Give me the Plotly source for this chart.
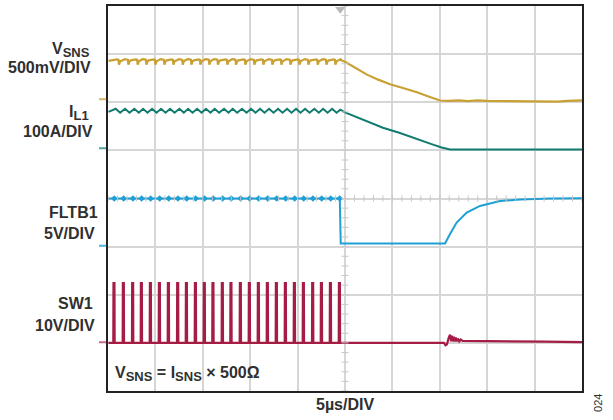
import plotly.graph_objects as go

# ---- data (time in µs, 5 µs/div; amplitude in divisions, centre = 0) ----
pulse_t = [-24.44, -23.45, -22.47, -21.55, -20.60, -19.65, -18.70, -17.72, -16.80,
           -15.85, -14.91, -14.00, -13.01, -12.10, -11.11, -10.16, -9.21, -8.26,
           -7.31, -6.36, -5.41, -4.46, -3.48, -2.56, -1.61, -0.66]
pulse_width = 0.12

# VSNS ripple shape within one switching period (offset from pulse, level)
vsns_rip_dt = [0.0, 0.2, 0.42, 0.55, 0.6, 0.72, 0.85]
vsns_rip_v = [2.875, 2.895, 2.89, 2.88, 2.78, 2.85, 2.87]
vsns_tail_t = [-0.42, 0.0, 1.2, 2.32, 3.5, 4.75, 6.2, 7.59, 8.8, 10.02, 11.0, 12.0, 13.0,
               14.0, 15.0, 16.5, 18.0, 19.5, 21.0, 22.4, 23.5, 25.0]
vsns_tail_v = [2.873, 2.842, 2.70, 2.574, 2.47, 2.373, 2.29, 2.208, 2.12, 2.036, 2.03,
               2.038, 2.025, 2.04, 2.03, 2.026, 2.036, 2.03, 2.022, 2.014, 2.03, 2.04]

# IL1 triangle ripple (offset from pulse, level)
il1_rip_dt = [0.25, 0.72]
il1_rip_v = [1.865, 1.782]
il1_tail_t = [-0.5, 0.0, 1.2, 2.32, 4.0, 5.8, 7.5, 9.28, 10.2, 11.08, 25.0]
il1_tail_v = [1.845, 1.788, 1.69, 1.602, 1.47, 1.36, 1.235, 1.12, 1.06, 1.017, 1.017]

# FLTB1
fltb_high = 0.0
fltb_tail_t = [-0.55, -0.45, 10.55, 11.08, 11.78, 12.84, 14.24, 16.35, 18.46, 21.62, 25.0]
fltb_tail_v = [0.0, -0.934, -0.934, -0.74, -0.50, -0.294, -0.155, -0.052, -0.021, 0.0, 0.006]

# SW1
sw_low = -3.0
sw_high = -1.76
sw_tail_t = [-0.5, 10.02, 10.44, 10.60, 10.76, 10.92, 11.08, 11.18, 11.28, 11.38, 11.48,
             11.58, 11.68, 11.78, 11.9, 12.05, 12.2, 12.4, 12.66, 15.0, 18.0, 21.0, 25.0]
sw_tail_v = [-3.0, -3.0, -3.0, -3.05, -3.03, -2.905, -2.83, -2.97, -2.85, -2.97, -2.87,
             -2.97, -2.89, -2.97, -2.91, -2.97, -2.93, -2.96, -2.96, -2.965, -2.97, -2.975, -2.985]

trigger_t = -0.5
ch_ground = {"vsns": 2.063, "il1": 1.044, "fltb": -0.982, "sw": -2.987}

C_VSNS = "#C9A033"
C_IL1 = "#117B70"
C_FLTB = "#1E9FD6"
C_SW = "#A51C45"

# ---- build traces from the readings ----
vx, vy = [], []
ix, iy = [], []
for p in pulse_t:
    for d, v in zip(vsns_rip_dt, vsns_rip_v):
        if p + d < -0.42:
            vx.append(p + d); vy.append(v)
    for d, v in zip(il1_rip_dt, il1_rip_v):
        if p + d < -0.5:
            ix.append(p + d); iy.append(v)
vx = [-24.95] + vx + vsns_tail_t
vy = [2.86] + vy + vsns_tail_v
ix = [-24.95] + ix + il1_tail_t
iy = [1.80] + iy + il1_tail_v

sx, sy = [-24.95], [sw_low]
for p in pulse_t:
    sx += [p, p + 0.02, p + pulse_width, p + pulse_width + 0.02]
    sy += [sw_low, sw_high, sw_high, sw_low]
sx += sw_tail_t
sy += sw_tail_v

fx = [-24.95] + fltb_tail_t
fy = [fltb_high] + fltb_tail_v

fig = go.Figure()
fig.add_trace(go.Scatter(x=vx, y=vy, mode="lines", line=dict(color=C_VSNS, width=2.2)))
fig.add_trace(go.Scatter(x=ix, y=iy, mode="lines", line=dict(color=C_IL1, width=2)))
fig.add_trace(go.Scatter(x=fx, y=fy, mode="lines", line=dict(color=C_FLTB, width=2)))
fig.add_trace(go.Scatter(x=[p + 0.1 for p in pulse_t], y=[fltb_high] * len(pulse_t), mode="markers",
                         marker=dict(color=C_FLTB, size=5, symbol="diamond")))
fig.add_trace(go.Scatter(x=sx, y=sy, mode="lines", line=dict(color=C_SW, width=2.2)))
fig.add_trace(go.Scatter(x=[trigger_t], y=[3.93], mode="markers", cliponaxis=False,
                         marker=dict(color="#b8b8b8", size=9, symbol="triangle-down")))

shapes = []
# centre-line minor ticks
k = -25.0
while k <= 25.001:
    shapes.append(dict(type="line", xref="x", yref="y", x0=k, x1=k, y0=-0.065, y1=0.065,
                       line=dict(color="#c8c8c8", width=1)))
    k += 1.0
k = -4.0
while k <= 4.001:
    shapes.append(dict(type="line", xref="x", yref="y", x0=-0.37, x1=0.37, y0=k, y1=k,
                       line=dict(color="#c8c8c8", width=1)))
    k += 0.2
# channel ground markers at left
for key, col in (("vsns", "#D9B866"), ("il1", "#4FA59B"), ("fltb", "#4DB3E0"), ("sw", "#C86A85")):
    shapes.append(dict(type="line", xref="paper", yref="y", x0=-0.019, x1=-0.004,
                       y0=ch_ground[key], y1=ch_ground[key], line=dict(color=col, width=2)))

FONT = "Liberation Sans, Arial, sans-serif"
TXT = "#303030"
ann = []
def sub(s):
    return "<sub><span style='font-size:13px'>%s</span></sub>" % s
def lab(text, xpx, ypx, size=16, anchor="right", bold=True, angle=0):
    ann.append(dict(text=("<b>%s</b>" % text) if bold else text, xref="paper", yref="paper",
                    x=(xpx - 108) / 474.0, y=(391 - ypx) / 387.0, xanchor=anchor, yanchor="middle",
                    showarrow=False, textangle=angle, font=dict(family=FONT, size=size, color=TXT)))

lab("V" + sub("SNS"), 92, 48)
lab("500mV/DIV", 93, 66)
lab("I" + sub("L1"), 91, 112)
lab("100A/DIV", 95, 130)
lab("FLTB1", 100, 211.5)
lab("5V/DIV", 97, 232.5)
lab("SW1", 95, 303)
lab("10V/DIV", 97, 325)
lab("V" + sub("SNS") + " = I" + sub("SNS") + " × 500Ω", 113, 374, anchor="left")
lab("5µs/DIV", 345, 405, anchor="center")
lab("024", 598, 403, size=11, anchor="center", bold=False, angle=-90)

axis_common = dict(showticklabels=False, ticks="", zeroline=False, showgrid=True,
                   gridcolor="#d6d6d6", gridwidth=1.5, showline=True, mirror=True,
                   linecolor="#222222", linewidth=2, fixedrange=True)
fig.update_layout(
    width=613, height=420, margin=dict(l=108, r=31, t=4, b=29),
    paper_bgcolor="white", plot_bgcolor="white", showlegend=False,
    xaxis=dict(range=[-25, 25], dtick=5, tick0=0, **axis_common),
    yaxis=dict(range=[-4, 4], dtick=1, tick0=0, **axis_common),
    shapes=shapes, annotations=ann,
)
fig.write_html("out.html", config={"displayModeBar": False},
               post_script="document.body.style.margin='0';document.body.style.overflow='hidden';")
